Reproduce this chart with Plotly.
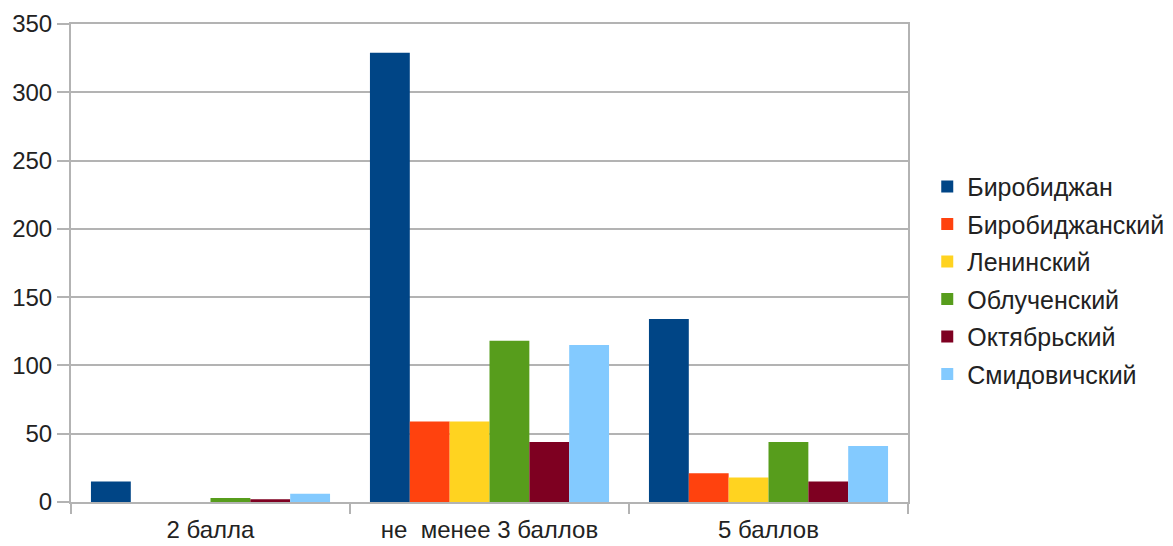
import plotly.graph_objects as go

# Score categories on the x axis
categories = ["2 балла", "не  менее 3 баллов", "5 баллов"]

# Number of participants per district
birobidzhan = [15, 329, 134]
birobidzhansky = [0, 59, 21]
leninsky = [0, 59, 18]
obluchensky = [3, 118, 44]
oktyabrsky = [2, 44, 15]
smidovichsky = [6, 115, 41]

series_names = ["Биробиджан", "Биробиджанский", "Ленинский",
                "Облученский", "Октябрьский", "Смидовичский"]
series_values = [birobidzhan, birobidzhansky, leninsky,
                 obluchensky, oktyabrsky, smidovichsky]
series_colors = ["#004586", "#ff420e", "#ffd320", "#579d1c", "#7e0021", "#83caff"]

y_ticks = [0, 50, 100, 150, 200, 250, 300, 350]

fig = go.Figure()
for name, vals, color in zip(series_names, series_values, series_colors):
    fig.add_trace(go.Bar(
        x=categories, y=vals, name=name,
        marker=dict(color=color, line=dict(width=0)),
        legendgroup=name,
    ))

grid = "#b3b3b3"
fig.update_layout(
    width=1173, height=546,
    margin=dict(l=71, r=265, t=24, b=44, autoexpand=False),
    paper_bgcolor="white", plot_bgcolor="white",
    barmode="group", bargap=0.143, bargroupgap=0,
    font=dict(family="Liberation Sans, Arial, sans-serif", size=24, color="#222222"),
    showlegend=True,
    legend=dict(x=1.023, xanchor="left", y=0.464, yanchor="middle",
                font=dict(size=25), tracegroupgap=2,
                itemsizing="constant"),
    xaxis=dict(showline=True, linecolor=grid, linewidth=2, mirror=True,
               ticks="outside", tickson="boundaries", ticklen=10,
               tickcolor=grid, tickwidth=2, showgrid=False,
               ticklabelstandoff=5, automargin=False),
    yaxis=dict(range=[0, 350], tickvals=y_ticks, showgrid=True,
               gridcolor=grid, gridwidth=2, showline=True, linecolor=grid,
               linewidth=2, mirror=True, ticks="outside", ticklen=12,
               tickcolor=grid, tickwidth=2, zeroline=False, automargin=False),
)

fig.write_html("out.html")
